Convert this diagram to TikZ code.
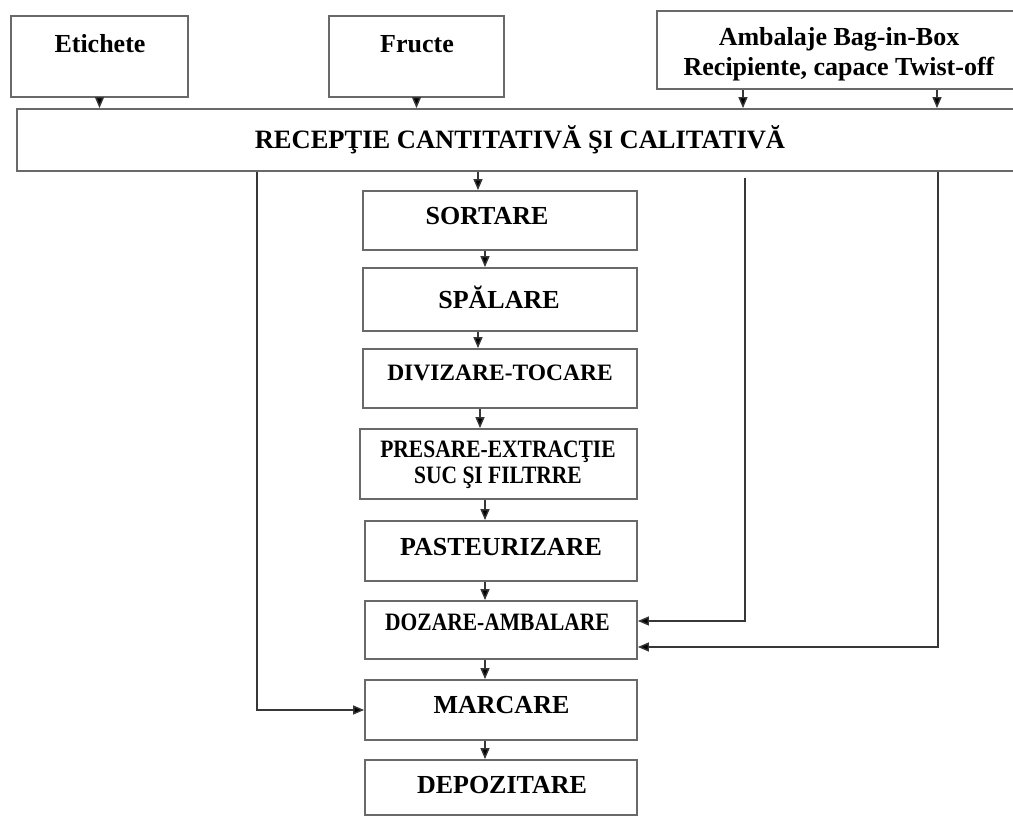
\documentclass[tikz,border=0pt]{standalone}
\usepackage{fontspec}
\setmainfont{Liberation Serif}
\newfontfamily\condserif[FakeStretch=0.86]{Liberation Serif}
\usetikzlibrary{arrows.meta}
\definecolor{boxgray}{RGB}{105,105,105}
\definecolor{linegray}{RGB}{55,55,55}
\begin{document}
\begin{tikzpicture}[x=1pt,y=-1pt,
  box/.style={draw=boxgray, line width=1.8pt, inner sep=0pt, fill=white},
  lbl/.style={font=\bfseries\fontsize{26}{30}\selectfont, align=center, inner sep=0pt, text=black},
  lblsmall/.style={lbl, font=\bfseries\fontsize{23.5}{27}\selectfont},
  lblcond/.style={lbl, font=\condserif\bfseries\fontsize{25}{26}\selectfont},
  conn/.style={draw=linegray, line width=1.4pt, -{Triangle[length=11pt,width=9pt,fill=black]}}]
\useasboundingbox[fill=white] (0,0) rectangle (1013,816);

% boxes
\node[box, minimum width=177pt, minimum height=81pt] (etich) at (99.5,56.5) {};
\node[box, minimum width=175pt, minimum height=81pt] (fruct) at (416.5,56.5) {};
\node[box, minimum width=363pt, minimum height=78pt] (amb) at (838.5,50) {};
\node[box, minimum width=1003pt, minimum height=62pt] (recep) at (518.5,140) {};
\node[box, minimum width=274pt, minimum height=59pt] (sort) at (500,220.5) {};
\node[box, minimum width=274pt, minimum height=63pt] (spal) at (500,299.5) {};
\node[box, minimum width=274pt, minimum height=59pt] (div) at (500,378.5) {};
\node[box, minimum width=277pt, minimum height=70pt] (pres) at (498.5,464) {};
\node[box, minimum width=272pt, minimum height=60pt] (past) at (501,551) {};
\node[box, minimum width=272pt, minimum height=58pt] (doz) at (501,630) {};
\node[box, minimum width=272pt, minimum height=60pt] (marc) at (501,710) {};
\node[box, minimum width=272pt, minimum height=55pt] (depo) at (501,787.5) {};

% texts
\node[lbl] (tEtich) at (100,44) {Etichete};
\node[lbl] (tFruct) at (417,44) {Fructe};
\node[lbl] (tAmb) at (839,54) {Ambalaje Bag-in-Box\\Recipiente, capace Twist-off};
\node[lbl, font=\bfseries\fontsize{26.5}{30}\selectfont] (tRecep) at (520,140) {RECEPŢIE CANTITATIVĂ ŞI CALITATIVĂ};
\node[lbl] (tSort) at (487,216) {SORTARE};
\node[lbl] (tSpal) at (499,297) {SPĂLARE};
\node[lblsmall] (tDiv) at (500,373) {DIVIZARE-TOCARE};
\node[lblcond] (tPres) at (498,464.5) {PRESARE-EXTRACŢIE\\SUC ŞI FILTRRE};
\node[lblcond] (tDoz) at (497.5,622) {DOZARE-AMBALARE};
\node[lbl] (tPast) at (501,547) {PASTEURIZARE};
\node[lbl] (tMarc) at (501.5,705) {MARCARE};
\node[lbl] (tDepo) at (502,785) {DEPOZITARE};

% helper x positions
\coordinate (xA1) at (743,0);
\coordinate (xA2) at (937,0);
\coordinate (xS) at (478,0);
\coordinate (xM) at (485,0);
\coordinate (xD) at (478,0);
\coordinate (xP) at (480,0);
\coordinate (xL) at (257,0);
\coordinate (xR1) at (745,0);
\coordinate (xR2) at (938,0);

% connectors from the top
\draw[conn] (etich.south) -- (etich.south |- recep.north);
\draw[conn] (fruct.south) -- (fruct.south |- recep.north);
\draw[conn] (amb.south -| xA1) -- (recep.north -| xA1);
\draw[conn] (amb.south -| xA2) -- (recep.north -| xA2);

% main chain
\draw[conn] (recep.south -| xS) -- (sort.north -| xS);
\draw[conn] (sort.south -| xM) -- (spal.north -| xM);
\draw[conn] (spal.south -| xD) -- (div.north -| xD);
\draw[conn] (div.south -| xP) -- (pres.north -| xP);
\draw[conn] (pres.south -| xM) -- (past.north -| xM);
\draw[conn] (past.south -| xM) -- (doz.north -| xM);
\draw[conn] (doz.south -| xM) -- (marc.north -| xM);
\draw[conn] (marc.south -| xM) -- (depo.north -| xM);

% side lines
\draw[conn] (recep.south -| xL) |- (marc.west);
\draw[conn] ([yshift=-6pt]recep.south -| xR1) |- ([yshift=9pt]doz.east);
\draw[conn] (recep.south -| xR2) |- ([yshift=-17pt]doz.east);
\end{tikzpicture}
\end{document}
